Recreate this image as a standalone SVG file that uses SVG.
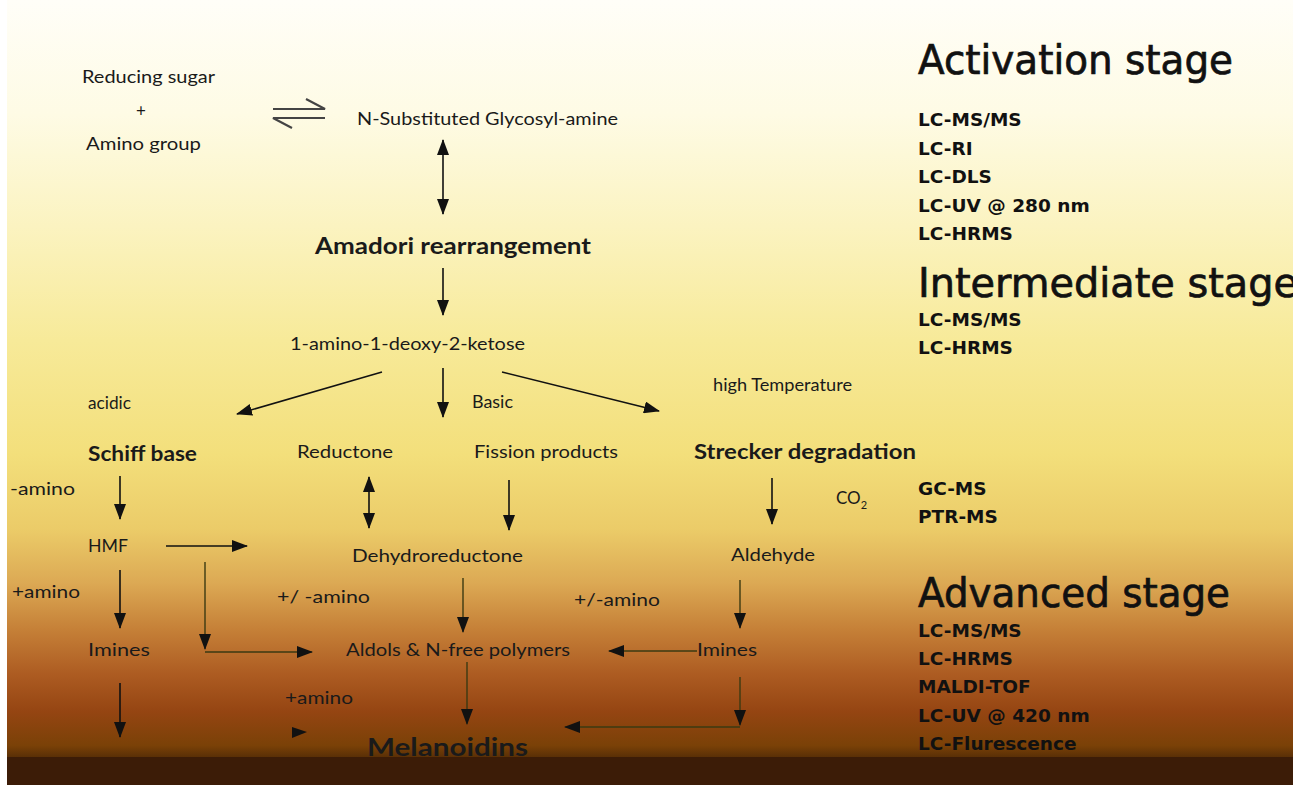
<svg xmlns="http://www.w3.org/2000/svg" width="1304" height="785" viewBox="0 0 1304 785">
<defs>
<linearGradient id="bg" x1="0" y1="0" x2="0" y2="757" gradientUnits="userSpaceOnUse">
<stop offset="0" stop-color="#fffef8"/>
<stop offset="0.15" stop-color="#fefbe5"/>
<stop offset="0.3" stop-color="#fbf3c0"/>
<stop offset="0.45" stop-color="#f7ea99"/>
<stop offset="0.6" stop-color="#f3df7b"/>
<stop offset="0.7" stop-color="#ebcb68"/>
<stop offset="0.77" stop-color="#dca954"/>
<stop offset="0.83" stop-color="#c68138"/>
<stop offset="0.89" stop-color="#ad5c22"/>
<stop offset="0.94" stop-color="#954512"/>
<stop offset="0.985" stop-color="#7a4107"/>
<stop offset="1" stop-color="#5a3006"/>
</linearGradient>
<marker id="ah" markerUnits="userSpaceOnUse" markerWidth="16" markerHeight="12" refX="15" refY="6" orient="auto-start-reverse">
<path d="M0,0 L16,6 L0,12 z" fill="#111"/>
</marker>
</defs>
<style>
.t{font-family:Lato,"Open Sans",sans-serif;font-size:17px;fill:#1a1a1a}
.b{font-family:Lato,"Open Sans",sans-serif;font-weight:bold;fill:#1a1a1a}
.h{font-family:"DejaVu Sans",Verdana,sans-serif;font-size:40px;fill:#111;stroke:#111;stroke-width:0.7}
.m{font-family:"DejaVu Sans",Verdana,sans-serif;font-weight:bold;font-size:18.5px;fill:#111}
.a{stroke:#111;stroke-width:1.6;fill:none;marker-end:url(#ah)}
.d{stroke:#111;stroke-width:1.6;fill:none;marker-end:url(#ah);marker-start:url(#ah)}
.o{stroke:#3b3a12;stroke-width:1.4;fill:none;marker-end:url(#ah)}
</style>
<rect x="0" y="0" width="1304" height="785" fill="#ffffff"/>
<rect x="7" y="0" width="1286" height="758" fill="url(#bg)"/>
<rect x="7" y="757" width="1286" height="28" fill="#3c1c07"/>

<g id="connectors">
<path d="M273,109 H325 L306,99" stroke="#444" stroke-width="2.2" fill="none"/>
<path d="M325,118 H273 L292,128" stroke="#444" stroke-width="2.2" fill="none"/>
<line class="d" x1="443" y1="140" x2="443" y2="214"/>
<line class="a" x1="443" y1="268" x2="443" y2="315"/>
<line class="a" x1="382" y1="372" x2="237" y2="414"/>
<line class="a" x1="443" y1="368" x2="443" y2="417"/>
<line class="a" x1="502" y1="372" x2="659" y2="411"/>
<line class="a" x1="120" y1="476" x2="120" y2="519"/>
<line class="d" x1="369" y1="477" x2="369" y2="528"/>
<line class="a" x1="509" y1="480" x2="509" y2="530"/>
<line class="a" x1="772" y1="478" x2="772" y2="524"/>
<line class="a" x1="166" y1="546" x2="247" y2="546"/>
<line class="a" x1="120" y1="570" x2="120" y2="628"/>
<line class="o" x1="205" y1="562" x2="205" y2="649"/>
<path class="o" d="M205,652 H312"/>
<line class="o" x1="463" y1="578" x2="463" y2="632"/>
<line class="o" x1="740" y1="580" x2="740" y2="628"/>
<line class="o" x1="697" y1="651" x2="609" y2="651"/>
<line class="a" x1="120" y1="683" x2="120" y2="737"/>
<line class="o" x1="467" y1="662" x2="467" y2="724"/>
<line class="o" x1="740" y1="677" x2="740" y2="725"/>
<line class="o" x1="740" y1="727" x2="565" y2="727"/>
<path d="M292,727 L307,732 L292,738 z" fill="#111"/>
</g>

<g id="n-reactants">
<text class="t" x="82" y="83" textLength="133" lengthAdjust="spacingAndGlyphs">Reducing sugar</text>
<text class="t" x="136" y="117" font-size="10">+</text>
<text class="t" x="86" y="150" textLength="115" lengthAdjust="spacingAndGlyphs">Amino group</text>
</g>
<g id="n-glycosylamine"><text class="t" x="357" y="125" textLength="261" lengthAdjust="spacingAndGlyphs">N-Substituted Glycosyl-amine</text></g>
<g id="n-amadori"><text class="b" x="315" y="254" font-size="22" textLength="276" lengthAdjust="spacingAndGlyphs">Amadori rearrangement</text></g>
<g id="n-ketose"><text class="t" x="290" y="350" textLength="235" lengthAdjust="spacingAndGlyphs">1-amino-1-deoxy-2-ketose</text></g>
<g id="l-acidic"><text class="t" x="88" y="409" textLength="43" lengthAdjust="spacingAndGlyphs">acidic</text></g>
<g id="l-basic"><text class="t" x="472" y="408" textLength="41" lengthAdjust="spacingAndGlyphs">Basic</text></g>
<g id="l-hightemp"><text class="t" x="713" y="391" textLength="139" lengthAdjust="spacingAndGlyphs">high Temperature</text></g>
<g id="n-schiff"><text class="b" x="88" y="461" font-size="20" textLength="109" lengthAdjust="spacingAndGlyphs">Schiff base</text></g>
<g id="n-reductone"><text class="t" x="297" y="458" textLength="96" lengthAdjust="spacingAndGlyphs">Reductone</text></g>
<g id="n-fission"><text class="t" x="474" y="458" textLength="144" lengthAdjust="spacingAndGlyphs">Fission products</text></g>
<g id="n-strecker"><text class="b" x="694" y="459" font-size="20" textLength="222" lengthAdjust="spacingAndGlyphs">Strecker degradation</text></g>
<g id="l-minusamino"><text class="t" x="10" y="495" textLength="65" lengthAdjust="spacingAndGlyphs">-amino</text></g>
<g id="l-co2"><text class="t" x="836" y="504" font-size="15">CO<tspan font-size="11" dy="5">2</tspan></text></g>
<g id="n-hmf"><text class="t" x="88" y="552" textLength="40" lengthAdjust="spacingAndGlyphs">HMF</text></g>
<g id="n-dehydro"><text class="t" x="352" y="562" textLength="171" lengthAdjust="spacingAndGlyphs">Dehydroreductone</text></g>
<g id="n-aldehyde"><text class="t" x="731" y="561" textLength="84" lengthAdjust="spacingAndGlyphs">Aldehyde</text></g>
<g id="l-plusamino1"><text class="t" x="12" y="598" textLength="68" lengthAdjust="spacingAndGlyphs">+amino</text></g>
<g id="l-pmamino1"><text class="t" x="277" y="603" textLength="93" lengthAdjust="spacingAndGlyphs">+/ -amino</text></g>
<g id="l-pmamino2"><text class="t" x="574" y="606" textLength="86" lengthAdjust="spacingAndGlyphs">+/-amino</text></g>
<g id="n-imines1"><text class="t" x="88" y="656" textLength="62" lengthAdjust="spacingAndGlyphs">Imines</text></g>
<g id="n-aldols"><text class="t" x="346" y="656" textLength="224" lengthAdjust="spacingAndGlyphs">Aldols &amp; N-free polymers</text></g>
<g id="n-imines2"><text class="t" x="697" y="656" textLength="60" lengthAdjust="spacingAndGlyphs">Imines</text></g>
<g id="l-plusamino2"><text class="t" x="285" y="704" textLength="68" lengthAdjust="spacingAndGlyphs">+amino</text></g>
<g id="n-melanoidins"><text class="b" x="367" y="756" font-size="24" textLength="161" lengthAdjust="spacingAndGlyphs" fill="#140a02">Melanoidins</text></g>

<g id="methods">
<text class="h" x="918" y="74" textLength="315" lengthAdjust="spacingAndGlyphs">Activation stage</text>
<text class="m" x="918" y="126">LC-MS/MS</text>
<text class="m" x="918" y="155">LC-RI</text>
<text class="m" x="918" y="183">LC-DLS</text>
<text class="m" x="918" y="212">LC-UV @ 280 nm</text>
<text class="m" x="918" y="240">LC-HRMS</text>
<text class="h" x="918" y="297" textLength="380" lengthAdjust="spacingAndGlyphs">Intermediate stage</text>
<text class="m" x="918" y="326">LC-MS/MS</text>
<text class="m" x="918" y="354">LC-HRMS</text>
<text class="m" x="918" y="495">GC-MS</text>
<text class="m" x="918" y="523">PTR-MS</text>
<text class="h" x="918" y="607" textLength="312" lengthAdjust="spacingAndGlyphs">Advanced stage</text>
<text class="m" x="918" y="637">LC-MS/MS</text>
<text class="m" x="918" y="665">LC-HRMS</text>
<text class="m" x="918" y="693">MALDI-TOF</text>
<text class="m" x="918" y="722">LC-UV @ 420 nm</text>
<text class="m" x="918" y="750">LC-Flurescence</text>
</g>
<rect x="1293" y="0" width="11" height="785" fill="#ffffff"/>
</svg>
